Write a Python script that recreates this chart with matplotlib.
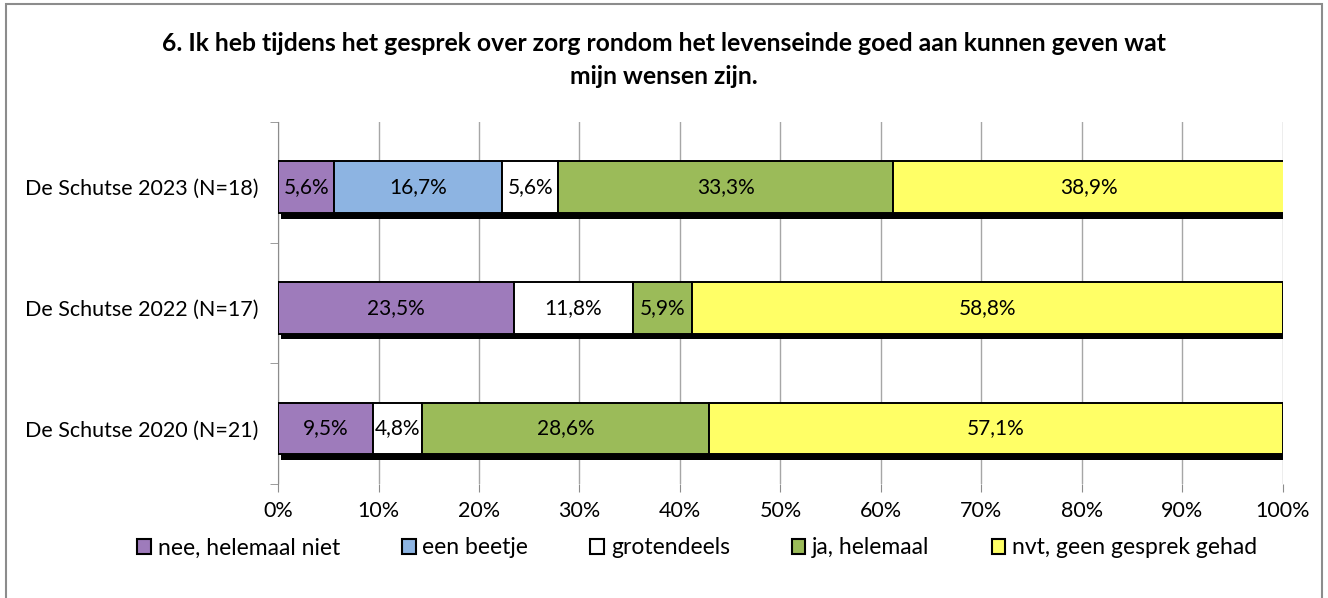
import numpy as np
import matplotlib.pyplot as plt
import matplotlib.patheffects as pe
from matplotlib.patches import Rectangle, Patch
from matplotlib.ticker import PercentFormatter

plt.rcParams['font.family'] = ['Lato', 'DejaVu Sans']

# data
groups = ["De Schutse 2023 (N=18)", "De Schutse 2022 (N=17)", "De Schutse 2020 (N=21)"]
answers = ["nee, helemaal niet", "een beetje", "grotendeels", "ja, helemaal",
           "nvt, geen gesprek gehad"]
nee = [5.6, 23.5, 9.5]
beetje = [16.7, 0.0, 0.0]
groten = [5.6, 11.8, 4.8]
ja = [33.3, 5.9, 28.6]
nvt = [38.9, 58.8, 57.1]
series = [nee, beetje, groten, ja, nvt]
colors = ["#9E7BBB", "#8DB4E2", "#FFFFFF", "#9BBB59", "#FFFF66"]
title = "6. Ik heb tijdens het gesprek over zorg rondom het levenseinde goed aan kunnen geven wat\nmijn wensen zijn."

fig = plt.figure(figsize=(13.28, 5.98), dpi=100)
ax = fig.add_axes([278 / 1328, 1 - 484 / 598, (1283 - 278) / 1328, (484 - 122) / 598])

# outer frame like the excel chart area
fig.patches.append(Rectangle((6 / 1328, -0.05), (1322 - 6) / 1328, 1.05 - 4 / 598,
                             transform=fig.transFigure, fill=False,
                             edgecolor="#8C8C8C", linewidth=1.5))

y = np.arange(len(groups))[::-1]
left = np.zeros(len(groups))
shadow = [pe.SimplePatchShadow(offset=(2, -4), shadow_rgbFace="k", alpha=1), pe.Normal()]
for vals, col in zip(series, colors):
    vals = np.array(vals)
    bars = ax.barh(y, vals, left=left, height=0.43, color=col, edgecolor="black",
                   linewidth=1.4, zorder=3)
    for b, v in zip(bars, vals):
        b.set_path_effects(shadow)
        if v > 0:
            ax.text(b.get_x() + v / 2, b.get_y() + b.get_height() / 2,
                    f"{v:.1f}%".replace(".", ","), ha="center", va="center",
                    fontsize=15, zorder=5)
    left += vals

ylo, yhi = -0.46, 2.54
ax.set_xlim(0, 100)
ax.set_ylim(ylo, yhi)
ax.set_xticks(np.arange(0, 101, 10))
ax.xaxis.set_major_formatter(PercentFormatter(decimals=0))
ax.set_yticks(y)
ax.set_yticklabels(groups)
ax.set_yticks(np.arange(ylo, yhi + 0.01, 1.0), minor=True)
ax.tick_params(axis="y", which="major", length=0, labelsize=15.5, pad=14)
ax.tick_params(axis="y", which="minor", length=6, color="#8C8C8C")
ax.tick_params(axis="x", length=6, color="#8C8C8C", labelsize=15.5, pad=6)
ax.grid(axis="x", color="#A6A6A6", linewidth=1, zorder=0)
for s in ["top", "right", "bottom"]:
    ax.spines[s].set_visible(False)
ax.spines["left"].set_color("#8C8C8C")

fig.text(0.5, 1 - 60 / 598, title, ha="center", va="center", fontsize=17.8,
         fontweight="bold", linespacing=1.5)

handles = [Patch(facecolor=c, edgecolor="black", linewidth=1.5) for c in colors]
fig.legend(handles, answers, loc="center", bbox_to_anchor=(0.525, 1 - 548 / 598), ncol=5,
           frameon=False, fontsize=16.5, handlelength=0.6, handleheight=0.6,
           handletextpad=0.3, columnspacing=2.7)

fig.savefig("out.png", dpi=100)
